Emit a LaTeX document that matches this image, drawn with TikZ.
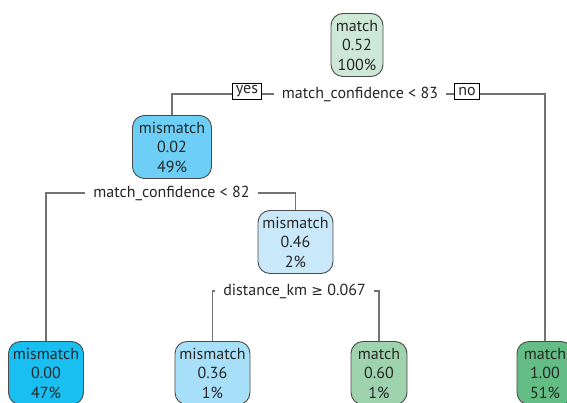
\documentclass[tikz,border=0pt]{standalone}
\usepackage{fontspec}
\setmainfont{PT Sans}
\newfontfamily\symfont{DejaVu Sans}
\pgfdeclarelayer{bg}
\pgfdeclarelayer{edges}
\pgfsetlayers{bg,edges,main}
\definecolor{boxgray}{HTML}{4A4A4A}
\definecolor{edgegray}{HTML}{737373}
\definecolor{cRoot}{HTML}{CDE9D5}
\definecolor{cA}{HTML}{6DCFF6}
\definecolor{cB}{HTML}{C9E9FB}
\definecolor{cC}{HTML}{18BFF0}
\definecolor{cD}{HTML}{A9E0F9}
\definecolor{cE}{HTML}{9ED3AE}
\definecolor{cF}{HTML}{63BD85}
\begin{document}
\begin{tikzpicture}[x=1pt,y=-1pt,
  treenode/.style={draw=boxgray, line width=0.9pt, rounded corners=12pt,
    minimum height=63pt, inner sep=0pt, align=center, text=black!85,
    font=\fontsize{16}{19.5}\selectfont},
  splitlabel/.style={fill=white, inner xsep=8pt, inner ysep=2pt, text=black!85,
    font=\fontsize{16}{19.5}\selectfont},
  dirbox/.style={draw=black, fill=white, line width=0.8pt, inner xsep=3.5pt,
    inner ysep=0pt, minimum height=16pt, text=black!85,
    font=\fontsize{16}{19.5}\selectfont},
  edge/.style={draw=edgegray, line width=1.2pt}]
  \useasboundingbox (0,0) rectangle (567,403);
  \begin{pgfonlayer}{bg}
    \fill[white] (0,0) rectangle (567,403);
  \end{pgfonlayer}
  \clip (0,0) rectangle (567,403);

  % tree nodes
  \node[treenode, fill=cRoot, minimum width=52pt] (root) at (357,45) {match\\0.52\\100\%};
  \node[treenode, fill=cA, minimum width=79pt] (n2) at (172,147) {mismatch\\0.02\\49\%};
  \node[treenode, fill=cB, minimum width=75pt] (n3) at (295.5,242) {mismatch\\0.46\\2\%};
  \node[treenode, fill=cC, minimum width=75pt] (l1) at (46,373) {mismatch\\0.00\\47\%};
  \node[treenode, fill=cD, minimum width=75pt] (l2) at (212.5,373) {mismatch\\0.36\\1\%};
  \node[treenode, fill=cE, minimum width=56pt] (l3) at (379,373) {match\\0.60\\1\%};
  \node[treenode, fill=cF, minimum width=56pt] (l4) at (545,373) {match\\1.00\\51\%};

  % split labels
  \node[splitlabel] (s1) at (360,94) {match\_confidence < 83};
  \node[splitlabel] (s2) at (171.5,193) {match\_confidence < 82};
  \node[splitlabel] (s3) at (294.5,291) {distance\_km {\symfont\fontsize{14}{19.5}\selectfont ≥} 0.067};
  \node[dirbox] (yes) at (247,91.5) {yes};
  \node[dirbox] (no) at (467,91.5) {no};

  % branches
  \begin{pgfonlayer}{edges}
    \draw[edge] (s1.center) -| (n2.north);
    \draw[edge] (s1.center) -| (l4.north);
    \draw[edge] (s2.center) -| (l1.north);
    \draw[edge] (s2.center) -| (n3.north);
    \draw[edge] (s3.center) -| (l2.north);
    \draw[edge] (s3.center) -| (l3.north);
  \end{pgfonlayer}
\end{tikzpicture}
\end{document}
